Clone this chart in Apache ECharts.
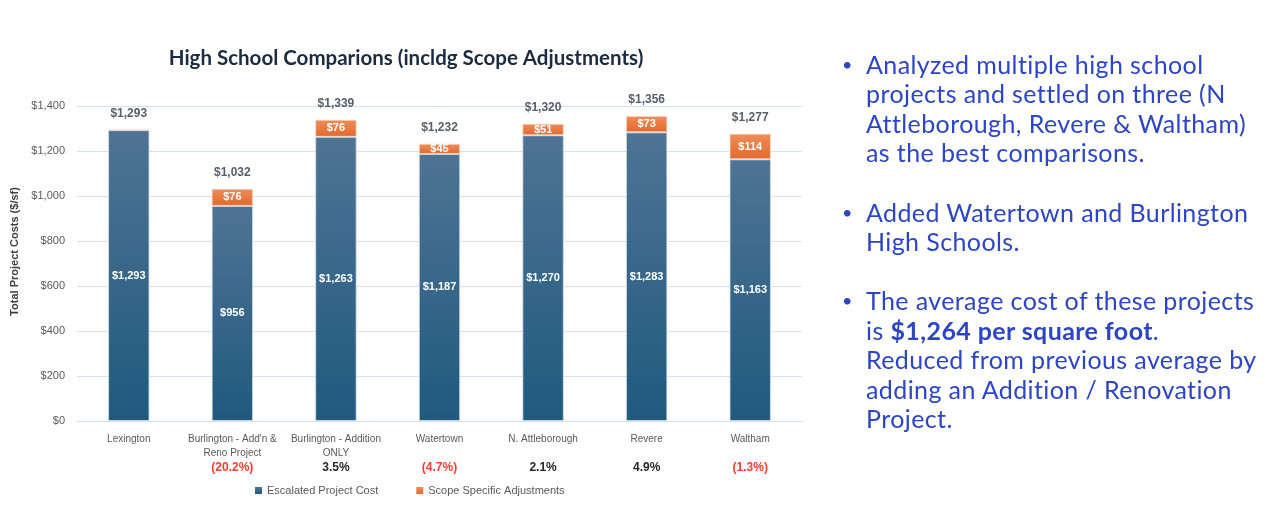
<!DOCTYPE html>
<html>
<head>
<meta charset="utf-8">
<title>High School Comparions</title>
<script src="https://cdn.jsdelivr.net/npm/echarts@6/dist/echarts.min.js"></script>
<style>
  html, body { margin: 0; padding: 0; background: #fff; }
  #wrap { position: relative; width: 1276px; height: 522px; }
  #chart { position: absolute; left: 0; top: 0; width: 1276px; height: 522px; }
  #notes {
    position: absolute; left: 842px; top: 50px; width: 432px;
    font-family: Lato, "Open Sans", sans-serif; font-size: 25px; line-height: 29.4px;
    letter-spacing: 0.4px; color: #2c45c4;
  }
  #notes .item { position: relative; padding-left: 24px; margin-bottom: 30px; white-space: nowrap; }
  #notes .item:before { content: '\2022'; position: absolute; left: 0; top: 0; font-size: 18px; }
  #notes b { font-weight: 700; }
</style>
</head>
<body>
<div id="wrap">
  <div id="chart"></div>
  <div id="notes">
    <div class="item">Analyzed multiple high school<br>projects and settled on three (N<br>Attleborough, Revere &amp; Waltham)<br>as the best comparisons.</div>
    <div class="item">Added Watertown and Burlington<br>High Schools.</div>
    <div class="item">The average cost of these projects<br>is <b>$1,264 per square foot</b>.<br>Reduced from previous average by<br>adding an Addition / Renovation<br>Project.</div>
  </div>
</div>
<script>
// 数据
const categories = ['Lexington', "Burlington - Add'n &\nReno Project", 'Burlington - Addition\nONLY', 'Watertown', 'N. Attleborough', 'Revere', 'Waltham'];
const escalatedCost = [1293, 956, 1263, 1187, 1270, 1283, 1163];
const scopeAdjust = [0, 76, 76, 45, 51, 73, 114];
const totals = [1293, 1032, 1339, 1232, 1320, 1356, 1277];
const pctDiff = [null, -20.2, 3.5, -4.7, 2.1, 4.9, -1.3];
const yTicks = { min: 0, max: 1400, interval: 200 };

const fmtMoney = (v) => '$' + Number(v).toLocaleString('en-US');

// 负数用括号表示
const pctLabels = pctDiff.map((v) => (v === null ? '' : (v < 0 ? '(' + Math.abs(v).toFixed(1) + '%)' : v.toFixed(1) + '%')));

const myChart = echarts.init(document.getElementById('chart'));

const option = {
  animation: false,
  textStyle: { fontFamily: '"Liberation Sans", Arial, sans-serif' },
  title: {
    text: 'High School Comparions (incldg Scope Adjustments)',
    left: 401,
    textAlign: 'center',
    top: 43,
    textStyle: { color: '#1c2b40', fontSize: 20.5, fontWeight: 'bold', fontFamily: 'Lato' },
  },
  legend: {
    data: ['Escalated Project Cost', 'Scope Specific Adjustments'],
    left: 250,
    top: 480,
    itemWidth: 7,
    itemHeight: 7,
    itemGap: 38,
    icon: 'rect',
    itemStyle: { borderWidth: 0 },
    textStyle: { color: '#595959', fontSize: 11 },
  },
  grid: { left: 77, right: 474, top: 106, bottom: 101 },
  xAxis: [
    {
      type: 'category',
      data: categories,
      axisLine: { lineStyle: { color: '#d6e0ee' } },
      axisTick: { show: false },
      axisLabel: { color: '#595959', fontSize: 10, interval: 0, margin: 11, lineHeight: 14 },
    },
    {
      type: 'category',
      position: 'bottom',
      data: pctLabels,
      axisLine: { show: false },
      axisTick: { show: false },
      axisLabel: {
        interval: 0,
        margin: 41,
        formatter: (v) => (v.charAt(0) === '(' ? '{neg|' + v + '}' : '{pos|' + v + '}'),
        rich: {
          neg: { color: '#ff3b30', fontSize: 12, fontWeight: 'bold' },
          pos: { color: '#262626', fontSize: 12, fontWeight: 'bold' },
        },
      },
    },
  ],
  yAxis: {
    type: 'value',
    min: yTicks.min,
    max: yTicks.max,
    interval: yTicks.interval,
    name: 'Total Project Costs ($/sf)',
    nameLocation: 'middle',
    nameGap: 57,
    nameTextStyle: { color: '#404040', fontSize: 11, fontWeight: 'bold', padding: [0, 0, 0, 24] },
    axisLabel: { color: '#595959', fontSize: 11, margin: 12, formatter: fmtMoney },
    splitLine: { lineStyle: { color: '#d6e2f2' } },
  },
  series: [
    {
      name: 'Escalated Project Cost',
      type: 'bar',
      stack: 'cost',
      barWidth: '40%',
      data: escalatedCost,
      itemStyle: {
        color: new echarts.graphic.LinearGradient(0, 0, 0, 1, [
          { offset: 0, color: '#4f7393' },
          { offset: 1, color: '#1f5a7f' },
        ]),
        borderColor: 'rgba(210,222,235,0.8)',
        borderWidth: 1,
      },
      label: {
        show: true,
        position: 'inside',
        color: '#fff',
        fontSize: 11,
        fontWeight: 'bold',
        formatter: (p) => fmtMoney(p.value),
      },
    },
    {
      name: 'Scope Specific Adjustments',
      type: 'bar',
      stack: 'cost',
      data: scopeAdjust,
      itemStyle: {
        color: new echarts.graphic.LinearGradient(0, 0, 0, 1, [
          { offset: 0, color: '#ef8d5a' },
          { offset: 1, color: '#e2692b' },
        ]),
        borderColor: 'rgba(245,215,200,0.8)',
        borderWidth: 1,
      },
      label: {
        show: true,
        position: 'inside',
        color: '#fff',
        fontSize: 11,
        fontWeight: 'bold',
        formatter: (p) => (p.value ? fmtMoney(p.value) : ''),
      },
    },
    {
      // 总数标签
      name: 'Total',
      type: 'scatter',
      symbolSize: 0,
      data: totals,
      label: {
        show: true,
        position: 'top',
        distance: 10,
        color: '#2b3644',
        fontSize: 12,
        fontWeight: 'bold',
        formatter: (p) => fmtMoney(p.value),
      },
    },
  ],
};
myChart.setOption(option);
window.addEventListener('resize', myChart.resize);
</script>
</body>
</html>
